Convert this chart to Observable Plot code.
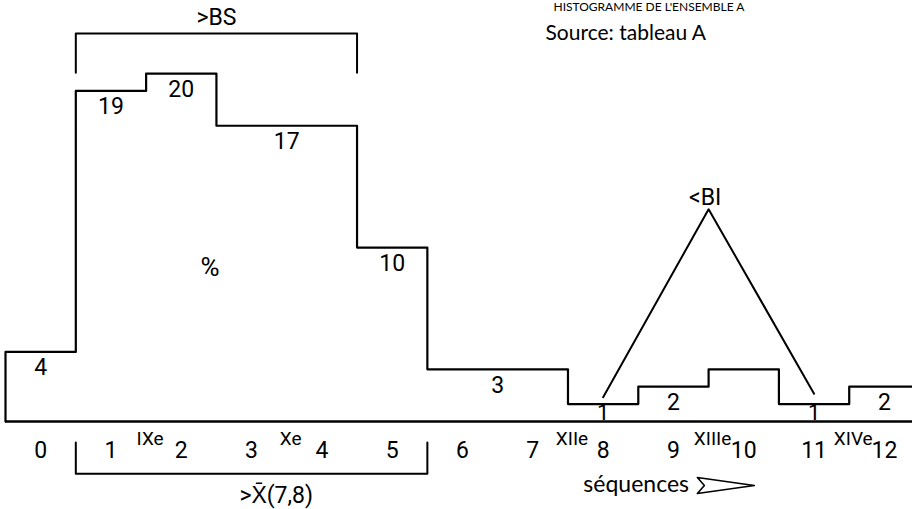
<!DOCTYPE html>
<html><head><meta charset="utf-8">
<script src="https://cdn.jsdelivr.net/npm/d3@7"></script>
<script src="https://cdn.jsdelivr.net/npm/@observablehq/plot@0.6"></script>
<style>
html,body{margin:0;padding:0;background:#fff;overflow:hidden;}
</style></head><body><div id="chart"></div>
<script>
// ---- data ----
const sequences = [0,1,2,3,4,5,6,7,8,9,10,11,12];
const percents  = [4,19,20,17,17,10,3,3,1,2,3,1,2];
// value labels written on the histogram (position in sequence units)
const labelSeq   = [0,1,2,3.5,5,6.5,9,12];
const labelValue = [4,19,20,17,10,3,2,2];
const oneSeq     = [8,11];
// centuries written between sequences
const eraLabels   = ["IXe","Xe","XIIe","XIIIe","XIVe"];
const eraBoundary = [1.5,3.5,7.5,9.5,11.5];
// annotations
const bsSpan    = [0.5, 4.5];   // >BS : sequences 1–4
const bsLevels  = [20.05, 22.3];
const xbarSpan  = [0.5, 5.5];   // >X̄(7,8) : sequences 1–5
const xbarLevels = [-1.2, -3.0];
const biSeq   = [8, 9.5, 11];   // <BI triangle
const biValue = [1.4, 12.2, 1.6];
const arrowSeq   = [9.34, 10.15, 9.34, 9.44];
const arrowValue = [-3.22, -3.68, -4.14, -3.68];

const steps = [{x:-0.5, y:0}]
  .concat(sequences.map((s,i) => ({x: s - 0.5, y: percents[i]})))
  .concat([{x: sequences[sequences.length-1] + 0.5, y: percents[percents.length-1]}]);
const labels = labelSeq.map((s,i) => ({x: s, y: labelValue[i], t: String(labelValue[i])}));
const eras = eraLabels.map((t,i) => ({x: eraBoundary[i], t}));
const bsPath = [{x:bsSpan[0],y:bsLevels[0]},{x:bsSpan[0],y:bsLevels[1]},{x:bsSpan[1],y:bsLevels[1]},{x:bsSpan[1],y:bsLevels[0]}];
const xbarPath = [{x:xbarSpan[0],y:xbarLevels[0]},{x:xbarSpan[0],y:xbarLevels[1]},{x:xbarSpan[1],y:xbarLevels[1]},{x:xbarSpan[1],y:xbarLevels[0]}];
const biPath = biSeq.map((s,i) => ({x: s, y: biValue[i]}));
const arrowPath = arrowSeq.map((s,i) => ({x: s, y: arrowValue[i]}));

const NUM = "Roboto,'Liberation Sans',sans-serif";
const TXT = "Lato,'Open Sans',sans-serif";

const chart = Plot.plot({
  width: 912, height: 509,
  marginLeft: 5, marginRight: 0, marginTop: 0, marginBottom: 88,
  x: {domain: [-0.5, 12.4]},
  y: {domain: [0, 24.2], axis: null},
  style: {background: "white", color: "black", fontFamily: NUM},
  marks: [
    Plot.ruleY([0], {stroke: "black", strokeWidth: 2.4}),
    Plot.line(steps, {x: "x", y: "y", curve: "step-after", stroke: "black", strokeWidth: 2.2}),
    Plot.text(labels, {x: "x", y: "y", text: "t", dy: 16, fontSize: 23, fontFamily: NUM, fill: "black"}),
    Plot.text(oneSeq, {x: d => d, y: () => 1, text: () => "1", dy: 9, fontSize: 22, fontFamily: NUM, fill: "black"}),
    Plot.axisX({ticks: sequences, tickSize: 0, tickPadding: 20, fontSize: 23, fontFamily: NUM, label: null, tickFormat: d => String(d)}),
    Plot.text(eras, {x: "x", y: () => -1, text: "t", dx: 4, fontSize: 19, fontFamily: NUM, fill: "black"}),
    Plot.line(bsPath, {x: "x", y: "y", stroke: "black", strokeWidth: 2}),
    Plot.text([">BS"], {x: () => (bsSpan[0] + bsSpan[1]) / 2, y: () => 23.2, text: d => d, fontSize: 23, fontFamily: NUM, fill: "black"}),
    Plot.line(xbarPath, {x: "x", y: "y", stroke: "black", strokeWidth: 2}),
    Plot.text([">X̄(7,8)"], {x: () => 3.35, y: () => -4.25, text: d => d, fontSize: 23, fontFamily: NUM, fill: "black"}),
    Plot.line(biPath, {x: "x", y: "y", stroke: "black", strokeWidth: 2}),
    Plot.text(["<BI"], {x: () => 9.45, y: () => 12.87, text: d => d, fontSize: 23, fontFamily: NUM, fill: "black"}),
    Plot.text(["%"], {x: () => 2.41, y: () => 8.85, text: d => d, fontSize: 26, fontFamily: NUM, fill: "black"}),
    Plot.text(["séquences"], {x: () => 8.47, y: () => -3.62, text: d => d, fontSize: 23, fontFamily: TXT, fill: "black"}),
    Plot.line(arrowPath, {x: "x", y: "y", curve: "linear-closed", stroke: "black", strokeWidth: 1.6, fill: "none"}),
    Plot.text(["HISTOGRAMME DE L'ENSEMBLE A"], {frameAnchor: "top-left", dx: 548, dy: 2, lineAnchor: "top", textAnchor: "start", fontSize: 12, fontFamily: TXT, fill: "black"}),
    Plot.text(["Source: tableau A"], {frameAnchor: "top-left", dx: 540, dy: 33, lineAnchor: "middle", textAnchor: "start", fontSize: 21, fontFamily: TXT, fill: "black"})
  ]
});
document.getElementById("chart").appendChild(chart);
</script>
</body></html>
